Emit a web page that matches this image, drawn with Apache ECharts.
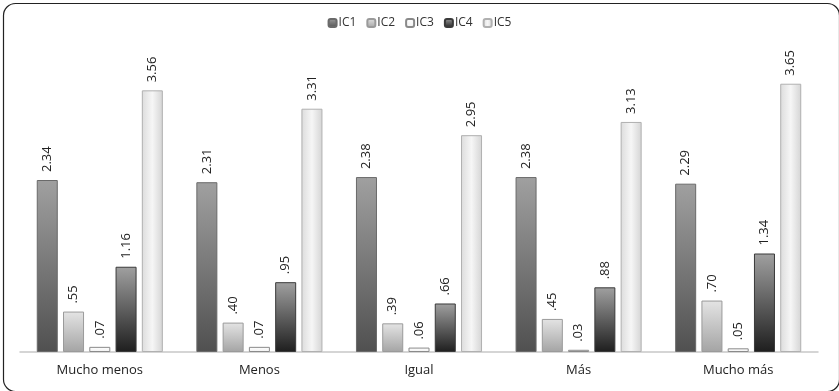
<!DOCTYPE html>
<html><head><meta charset="utf-8">
<script src="https://cdn.jsdelivr.net/npm/echarts@6/dist/echarts.min.js"></script>
<style>html,body{margin:0;padding:0;background:#fff}#c{width:839px;height:391px}</style>
</head><body><div id="c"></div>
<script>
const categories = ['Mucho menos', 'Menos', 'Igual', 'Más', 'Mucho más'];
const seriesNames = ['IC1', 'IC2', 'IC3', 'IC4', 'IC5'];
const ic1 = [2.34, 2.31, 2.38, 2.38, 2.29];
const ic2 = [0.55, 0.40, 0.39, 0.45, 0.70];
const ic3 = [0.07, 0.07, 0.06, 0.03, 0.05];
const ic4 = [1.16, 0.95, 0.66, 0.88, 1.34];
const ic5 = [3.56, 3.31, 2.95, 3.13, 3.65];
const values = [ic1, ic2, ic3, ic4, ic5];

function vg(top, bottom) {
  return new echarts.graphic.LinearGradient(0, 0, 0, 1, [{offset: 0, color: top}, {offset: 1, color: bottom}]);
}
const fills = [
  vg('#a0a0a0', '#505050'),
  vg('#e4e4e4', '#a4a4a4'),
  vg('#ffffff', '#f0f0f0'),
  vg('#a0a0a0', '#1e1e1e'),
  new echarts.graphic.LinearGradient(0, 0, 1, 0, [{offset: 0, color: '#dcdcdc'}, {offset: 0.5, color: '#f6f6f6'}, {offset: 1, color: '#d4d4d4'}])
];
const borders = ['#6a6a6a', '#9a9a9a', '#8a8a8a', '#3a3a3a', '#b0b0b0'];

function fmt(v) {
  let s = v.toFixed(2);
  if (s.startsWith('0')) s = s.slice(1);
  return s;
}

const chart = echarts.init(document.getElementById('c'));
chart.setOption({
  animation: false,
  textStyle: {fontFamily: 'Open Sans'},
  graphic: [{
    type: 'rect', left: 1, top: 1, silent: true,
    shape: {width: 836, height: 388, r: 12},
    style: {fill: 'none', stroke: '#222', lineWidth: 1.2}
  }],
  legend: {
    top: 12, left: 'center',
    itemWidth: 8, itemHeight: 8, itemGap: 10,
    textStyle: {fontSize: 12, color: '#333', padding: [0, 0, 0, -3]},
    data: seriesNames
  },
  grid: {left: 20, right: 21, top: 58, bottom: 39},
  xAxis: {
    type: 'category', data: categories,
    axisLine: {lineStyle: {color: '#c8c8c8', width: 1.5}},
    axisTick: {show: false},
    axisLabel: {fontSize: 13, color: '#222', margin: 12}
  },
  yAxis: {type: 'value', min: 0, max: 4, show: false, splitLine: {show: false}},
  series: seriesNames.map((n, i) => ({
    name: n, type: 'bar',
    data: values[i],
    barGap: '25%', barCategoryGap: '21%',
    itemStyle: {color: fills[i], borderColor: borders[i], borderWidth: 1},
    label: {
      show: true, position: 'top', rotate: 90, align: 'left', verticalAlign: 'middle',
      distance: 8, fontSize: 13, color: '#222',
      formatter: p => fmt(p.value)
    }
  }))
});
</script></body></html>
